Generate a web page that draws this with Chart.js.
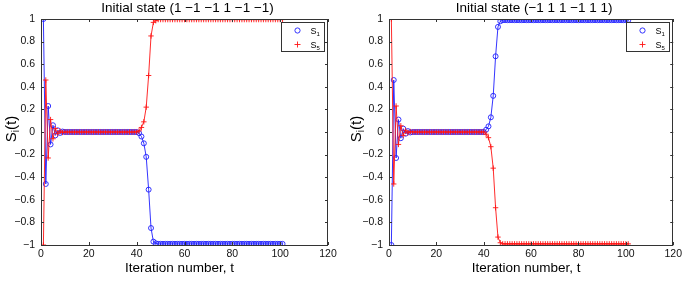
<!DOCTYPE html>
<html>
<head>
<meta charset="utf-8">
<script src="https://cdn.jsdelivr.net/npm/chart.js@4.4.1/dist/chart.umd.min.js"></script>
<style>
  body { margin: 0; background: #fff; }
  #wrap { position: relative; width: 685px; height: 281px; }
  #left { position: absolute; left: 0; top: 0; }
  #right { position: absolute; left: 345px; top: 0; }
</style>
</head>
<body>
<div id="wrap">
  <canvas id="left" width="345" height="281"></canvas>
  <canvas id="right" width="340" height="281"></canvas>
</div>
<script>
// iteration index t
const iterations = [
  1, 2, 3, 4, 5, 6, 7, 8, 9, 10, 11, 12, 13, 14, 15, 16, 17, 18, 19, 20,
  21, 22, 23, 24, 25, 26, 27, 28, 29, 30, 31, 32, 33, 34, 35, 36, 37, 38, 39, 40,
  41, 42, 43, 44, 45, 46, 47, 48, 49, 50, 51, 52, 53, 54, 55, 56, 57, 58, 59, 60,
  61, 62, 63, 64, 65, 66, 67, 68, 69, 70, 71, 72, 73, 74, 75, 76, 77, 78, 79, 80,
  81, 82, 83, 84, 85, 86, 87, 88, 89, 90, 91, 92, 93, 94, 95, 96, 97, 98, 99, 100, 101
];

// left panel: initial state (1 -1 -1 1 -1 -1)
const leftS1 = [
  1, -0.46, 0.23, -0.11, 0.06, -0.03, 0.015, -0.008, 0.004, 0,
  0, 0, 0, 0, 0, 0, 0, 0, 0, 0,
  0, 0, 0, 0, 0, 0, 0, 0, 0, 0,
  0, 0, 0, 0, 0, 0, 0, 0, 0, 0,
  -0.01, -0.04, -0.1, -0.22, -0.51, -0.85, -0.97, -0.985, -0.99, -0.99,
  -0.99, -0.99, -0.99, -0.99, -0.99, -0.99, -0.99, -0.99, -0.99, -0.99,
  -0.99, -0.99, -0.99, -0.99, -0.99, -0.99, -0.99, -0.99, -0.99, -0.99,
  -0.99, -0.99, -0.99, -0.99, -0.99, -0.99, -0.99, -0.99, -0.99, -0.99,
  -0.99, -0.99, -0.99, -0.99, -0.99, -0.99, -0.99, -0.99, -0.99, -0.99,
  -0.99, -0.99, -0.99, -0.99, -0.99, -0.99, -0.99, -0.99, -0.99, -0.99, -0.99
];
const leftS5 = [
  -1, 0.46, -0.23, 0.11, -0.06, 0.03, -0.015, 0.008, -0.004, 0,
  0, 0, 0, 0, 0, 0, 0, 0, 0, 0,
  0, 0, 0, 0, 0, 0, 0, 0, 0, 0,
  0, 0, 0, 0, 0, 0, 0, 0, 0, 0,
  0.01, 0.04, 0.09, 0.22, 0.5, 0.85, 0.97, 0.985, 0.995, 0.995,
  0.995, 0.995, 0.995, 0.995, 0.995, 0.995, 0.995, 0.995, 0.995, 0.995,
  0.995, 0.995, 0.995, 0.995, 0.995, 0.995, 0.995, 0.995, 0.995, 0.995,
  0.995, 0.995, 0.995, 0.995, 0.995, 0.995, 0.995, 0.995, 0.995, 0.995,
  0.995, 0.995, 0.995, 0.995, 0.995, 0.995, 0.995, 0.995, 0.995, 0.995,
  0.995, 0.995, 0.995, 0.995, 0.995, 0.995, 0.995, 0.995, 0.995, 0.995, 0.995
];

// right panel: initial state (-1 1 1 -1 1 1)
const rightS1 = [
  -1, 0.46, -0.23, 0.11, -0.055, 0.03, -0.015, 0.008, -0.004, 0,
  0, 0, 0, 0, 0, 0, 0, 0, 0, 0,
  0, 0, 0, 0, 0, 0, 0, 0, 0, 0,
  0, 0, 0, 0, 0, 0, 0, 0, 0, 0,
  0.02, 0.05, 0.13, 0.32, 0.67, 0.93, 0.98, 0.99, 0.99, 0.99,
  0.99, 0.99, 0.99, 0.99, 0.99, 0.99, 0.99, 0.99, 0.99, 0.99,
  0.99, 0.99, 0.99, 0.99, 0.99, 0.99, 0.99, 0.99, 0.99, 0.99,
  0.99, 0.99, 0.99, 0.99, 0.99, 0.99, 0.99, 0.99, 0.99, 0.99,
  0.99, 0.99, 0.99, 0.99, 0.99, 0.99, 0.99, 0.99, 0.99, 0.99,
  0.99, 0.99, 0.99, 0.99, 0.99, 0.99, 0.99, 0.99, 0.99, 0.99, 0.99
];
const rightS5 = [
  1, -0.46, 0.23, -0.11, 0.055, -0.03, 0.015, -0.008, 0.004, 0,
  0, 0, 0, 0, 0, 0, 0, 0, 0, 0,
  0, 0, 0, 0, 0, 0, 0, 0, 0, 0,
  0, 0, 0, 0, 0, 0, 0, 0, 0, 0,
  -0.02, -0.05, -0.13, -0.32, -0.67, -0.93, -0.98, -0.99, -0.99, -0.99,
  -0.99, -0.99, -0.99, -0.99, -0.99, -0.99, -0.99, -0.99, -0.99, -0.99,
  -0.99, -0.99, -0.99, -0.99, -0.99, -0.99, -0.99, -0.99, -0.99, -0.99,
  -0.99, -0.99, -0.99, -0.99, -0.99, -0.99, -0.99, -0.99, -0.99, -0.99,
  -0.99, -0.99, -0.99, -0.99, -0.99, -0.99, -0.99, -0.99, -0.99, -0.99,
  -0.99, -0.99, -0.99, -0.99, -0.99, -0.99, -0.99, -0.99, -0.99, -0.99, -0.99
];

const xTicks = [0, 20, 40, 60, 80, 100, 120];
const yTicks = [-1, -0.8, -0.6, -0.4, -0.2, 0, 0.2, 0.4, 0.6, 0.8, 1];

const FONT = '"Liberation Sans", Arial, Helvetica, sans-serif';
const BLUE = 'rgb(30,30,255)';
const RED = 'rgb(255,20,20)';

function fmt(v) {
  const r = Math.round(v * 10) / 10;
  return (r < 0 ? '\u2212' : '') + String(Math.abs(r));
}

// box round the axes, inward ticks, titles and the legend (MATLAB look)
const matlabAxes = {
  id: 'matlabAxes',
  afterDatasetsDraw(chart, args, opts) {
    const ctx = chart.ctx;
    const a = chart.chartArea;
    const xs = chart.scales.x, ys = chart.scales.y;
    ctx.save();
    ctx.strokeStyle = '#333';
    ctx.lineWidth = 1;
    ctx.strokeRect(Math.round(a.left) + 0.5, Math.round(a.top) + 0.5,
      Math.round(a.right - a.left) - 1, Math.round(a.bottom - a.top));
    ctx.beginPath();
    xTicks.forEach(v => {
      const px = Math.round(xs.getPixelForValue(v)) + 0.5;
      ctx.moveTo(px, a.bottom); ctx.lineTo(px, a.bottom - 3);
      ctx.moveTo(px, a.top); ctx.lineTo(px, a.top + 3);
    });
    yTicks.forEach(v => {
      const py = Math.round(ys.getPixelForValue(v)) + 0.5;
      ctx.moveTo(a.left, py); ctx.lineTo(a.left + 3, py);
      ctx.moveTo(a.right, py); ctx.lineTo(a.right - 3, py);
    });
    ctx.stroke();

    // legend
    const bx = Math.round(a.right) - 46.5, by = Math.round(a.top) + 3.5;
    ctx.fillStyle = '#fff';
    ctx.fillRect(bx, by, 43, 29);
    ctx.strokeStyle = '#333';
    ctx.strokeRect(bx, by, 43, 29);
    ctx.lineWidth = 0.9;
    ctx.strokeStyle = BLUE;
    ctx.beginPath();
    ctx.arc(bx + 16, by + 8, 2.6, 0, Math.PI * 2);
    ctx.stroke();
    ctx.strokeStyle = RED;
    ctx.beginPath();
    ctx.moveTo(bx + 13, by + 22); ctx.lineTo(bx + 19, by + 22);
    ctx.moveTo(bx + 16, by + 19); ctx.lineTo(bx + 16, by + 25);
    ctx.stroke();
    ctx.fillStyle = '#000';
    ctx.textBaseline = 'alphabetic';
    ctx.textAlign = 'left';
    [['1', 11], ['5', 25]].forEach(([sub, y]) => {
      ctx.font = '9px ' + FONT;
      ctx.fillText('S', bx + 29, by + y);
      ctx.font = '6px ' + FONT;
      ctx.fillText(sub, bx + 35, by + y + 2);
    });

    // title
    ctx.font = '13.5px ' + FONT;
    ctx.textAlign = 'center';
    ctx.textBaseline = 'middle';
    ctx.fillText(opts.title, (a.left + a.right) / 2 + 3, 8);

    // x label
    ctx.fillText('Iteration number, t', (a.left + a.right) / 2 - 5, 268);

    // y label S_i(t), rotated
    ctx.translate(opts.yLabelX, 129);
    ctx.rotate(-Math.PI / 2);
    ctx.textAlign = 'left';
    ctx.textBaseline = 'alphabetic';
    ctx.font = '15px ' + FONT;
    const wS = ctx.measureText('S').width;
    const wT = ctx.measureText('(t)').width;
    ctx.font = '10px ' + FONT;
    const wI = ctx.measureText('i').width;
    const x0 = -(wS + wI + wT) / 2;
    ctx.font = '15px ' + FONT;
    ctx.fillText('S', x0, 5);
    ctx.font = '10px ' + FONT;
    ctx.fillText('i', x0 + wS, 8);
    ctx.font = '15px ' + FONT;
    ctx.fillText('(t)', x0 + wS + wI, 5);
    ctx.restore();
  }
};

function makeChart(id, title, s1, s5, yAxisWidth, padRight, yLabelX) {
  return new Chart(document.getElementById(id), {
    type: 'line',
    data: {
      datasets: [{
        label: 'S1',
        data: iterations.map((t, i) => ({ x: t, y: s1[i] })),
        borderColor: BLUE,
        borderWidth: 0.9,
        pointStyle: 'circle',
        pointRadius: 2.5,
        pointBorderWidth: 0.9,
        pointBorderColor: BLUE,
        pointBackgroundColor: 'rgba(0,0,0,0)',
        tension: 0,
        order: 1
      }, {
        label: 'S5',
        data: iterations.map((t, i) => ({ x: t, y: s5[i] })),
        borderColor: RED,
        borderWidth: 0.9,
        pointStyle: 'cross',
        pointRadius: 2.7,
        pointBorderWidth: 0.9,
        pointBorderColor: RED,
        tension: 0,
        order: 0
      }]
    },
    options: {
      responsive: false,
      animation: false,
      devicePixelRatio: 1,
      layout: { padding: { top: 19, right: padRight, bottom: 0, left: 0 } },
      plugins: {
        legend: { display: false },
        tooltip: { enabled: false },
        matlabAxes: { title: title, yLabelX: yLabelX }
      },
      scales: {
        x: {
          type: 'linear',
          min: 0,
          max: 120,
          grid: { display: false, drawTicks: false },
          border: { display: false },
          ticks: { font: { size: 10.5, family: FONT }, color: '#111', padding: 3, maxRotation: 0, autoSkip: false },
          afterBuildTicks: s => { s.ticks = xTicks.map(v => ({ value: v })); },
          afterFit: s => { s.height = 36; }
        },
        y: {
          min: -1,
          max: 1,
          grid: { display: false, drawTicks: false },
          border: { display: false },
          ticks: { font: { size: 10.5, family: FONT }, color: '#111', padding: 6, autoSkip: false, callback: v => fmt(v) },
          afterBuildTicks: s => { s.ticks = yTicks.map(v => ({ value: v })); },
          afterFit: s => { s.width = yAxisWidth; }
        }
      }
    },
    plugins: [matlabAxes]
  });
}

makeChart('left', 'Initial state (1 \u22121 \u22121 1 \u22121 \u22121)', leftS1, leftS5, 41, 17, 11);
makeChart('right', 'Initial state (\u22121 1 1 \u22121 1 1)', rightS1, rightS5, 44, 9, 11);
</script>
</body>
</html>
